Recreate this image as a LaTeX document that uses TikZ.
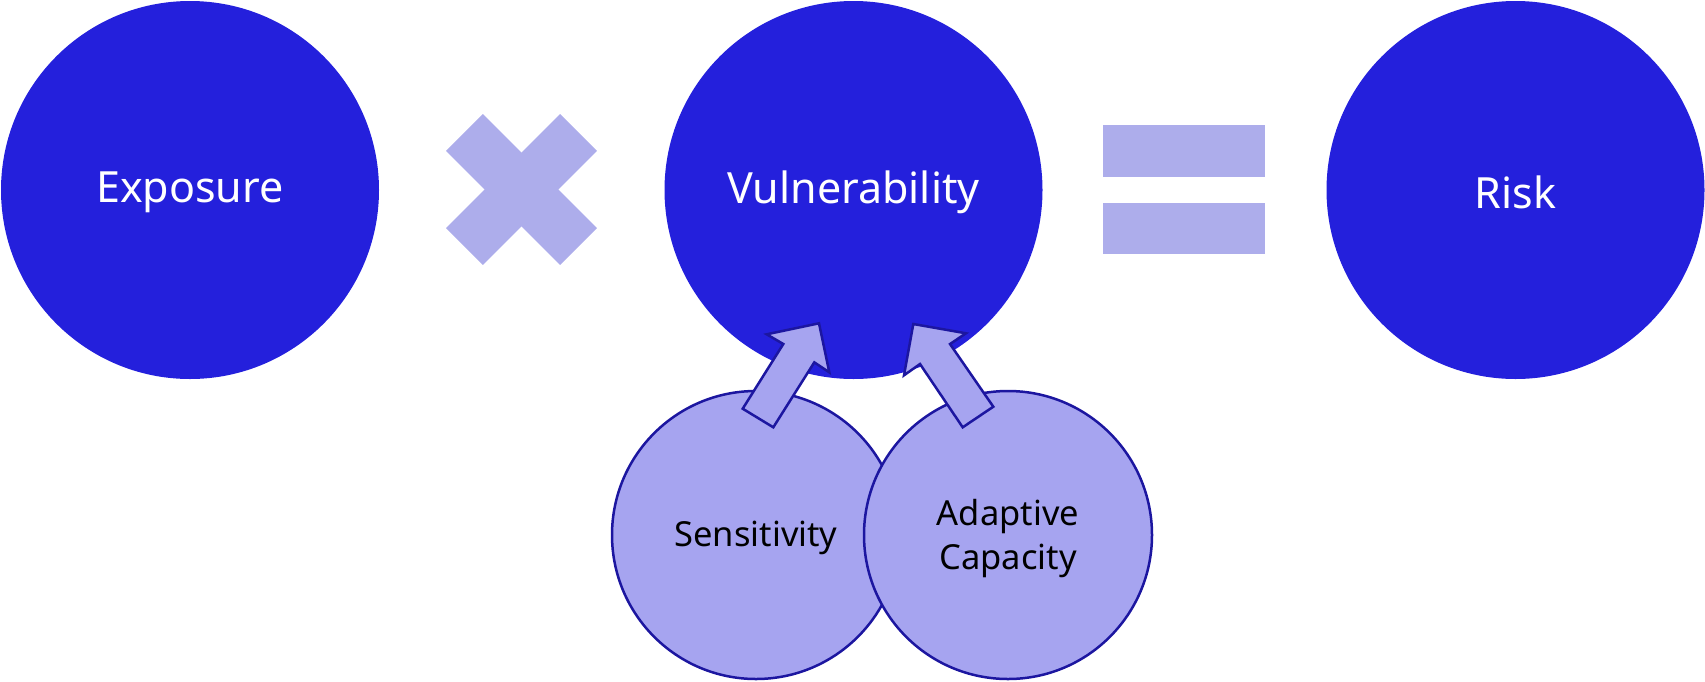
\documentclass[tikz,border=0pt]{standalone}
\usepackage{fontspec}
\setmainfont{Noto Sans}
\definecolor{bigblue}{RGB}{36,32,220}
\definecolor{lightfill}{RGB}{166,164,240}
\definecolor{darkline}{RGB}{28,22,160}
\definecolor{opfill}{RGB}{173,173,235}
\tikzset{
  bigcirc/.style={circle, fill=bigblue, minimum size=378pt, inner sep=0pt, text=white, font=\fontsize{43}{52}\selectfont},
  smallcirc/.style={circle, fill=lightfill, draw=darkline, line width=2.5pt, minimum size=288pt, inner sep=0pt, text=black, align=center, font=\fontsize{34.5}{44}\selectfont},
  blockarrow/.style={fill=lightfill, draw=darkline, line width=2.5pt, line join=miter},
  opshape/.style={fill=opfill}
}
\begin{document}
\begin{tikzpicture}[x=1pt,y=-1pt]
\useasboundingbox (0,0) rectangle (1705,681);
\node[bigcirc] (exp) at (190,190) {};
\node[bigcirc] (vul) at (853.5,190) {};
\node[bigcirc] (risk) at (1515.5,190) {};
\node[text=white, font=\fontsize{43}{52}\selectfont] (expt) at (190,192) {Exposure};
\node[text=white, font=\fontsize{43}{52}\selectfont] (vult) at (853.5,192) {Vulnerability};
\node[text=white, font=\fontsize{43}{52}\selectfont] (riskt) at (1515.5,192) {Risk};
% times sign
\fill[opshape, rotate around={45:(521.5,189.5)}] (521.5-80.75,189.5-26) rectangle (521.5+80.75,189.5+26);
\fill[opshape, rotate around={-45:(521.5,189.5)}] (521.5-80.75,189.5-26) rectangle (521.5+80.75,189.5+26);
% equals sign
\fill[opshape] (1103.3,125) rectangle (1265.3,176.7);
\fill[opshape] (1103.3,202.7) rectangle (1265.3,254.3);
% small circles
\node[smallcirc] (sens) at (756,535) {};
\node[smallcirc] (adap) at (1008,535) {};
\node[text=black, font=\fontsize{34.5}{44}\selectfont] (senst) at (756,538) {Sensitivity};
\node[text=black, align=center, font=\fontsize{34.5}{44}\selectfont] (adapt) at (1008,539) {Adaptive\\Capacity};
% block arrows
\draw[blockarrow] (742.7,408.7) -- (783.3,344) -- (766.7,334.3) -- (819,323.3) -- (829.3,372.3) -- (814.3,362.3) -- (773.3,427.3) -- cycle;
\draw[blockarrow] (962.7,427.3) -- (920,364) -- (904,375.3) -- (913.3,324) -- (966,333.3) -- (950,344) -- (993.3,406.7) -- cycle;
\end{tikzpicture}
\end{document}
